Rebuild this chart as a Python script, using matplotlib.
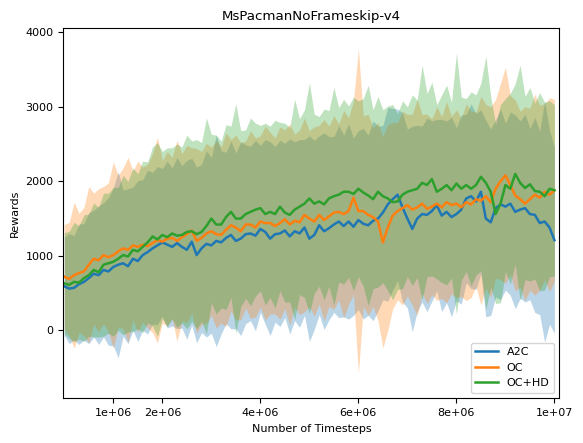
import numpy as np
import matplotlib
matplotlib.use("Agg")
import matplotlib.pyplot as plt

plt.rcParams['font.size'] = 8

# timesteps (every 1e5 steps, 0 .. 1e7)
timesteps = np.linspace(0, 1e7, 101)

labels = ["A2C", "OC", "OC+HD"]
colors = ["tab:blue", "tab:orange", "tab:green"]

# mean rewards
a2c_mean = [590, 560, 570, 620, 650, 700, 760, 740, 810, 790,
            850, 880, 900, 860, 960, 930, 1010, 1050, 1100, 1140,
            1180, 1150, 1120, 1170, 1120, 1080, 1190, 1010, 1100, 1160,
            1140, 1200, 1180, 1240, 1280, 1200, 1230, 1290, 1300, 1270,
            1360, 1320, 1230, 1290, 1300, 1340, 1260, 1330, 1300, 1380,
            1230, 1280, 1410, 1330, 1370, 1420, 1460, 1400, 1460, 1390,
            1480, 1430, 1410, 1470, 1500, 1580, 1690, 1760, 1820, 1650,
            1500, 1360, 1500, 1560, 1550, 1600, 1680, 1540, 1590, 1520,
            1560, 1620, 1770, 1800, 1730, 1860, 1500, 1450, 1640, 1690,
            1660, 1700, 1590, 1620, 1640, 1560, 1550, 1440, 1460, 1380,
            1210]
oc_mean = [720, 690, 740, 770, 790, 880, 960, 940, 1010, 980,
           1010, 1060, 1100, 1080, 1140, 1120, 1150, 1130, 1170, 1210,
           1190, 1230, 1240, 1200, 1250, 1290, 1340, 1200, 1240, 1300,
           1330, 1290, 1280, 1350, 1410, 1380, 1330, 1420, 1420, 1380,
           1460, 1440, 1440, 1400, 1440, 1490, 1420, 1470, 1450, 1550,
           1500, 1460, 1550, 1480, 1530, 1580, 1590, 1560, 1600, 1780,
           1600, 1600, 1550, 1520, 1460, 1180, 1380, 1540, 1600, 1640,
           1680, 1620, 1650, 1700, 1630, 1660, 1700, 1650, 1720, 1680,
           1700, 1650, 1720, 1690, 1760, 1740, 1800, 1720, 1900, 2000,
           2080, 1950, 1810, 1760, 1700, 1760, 1820, 1780, 1860, 1820,
           1880]
ochd_mean = [630, 610, 650, 640, 700, 740, 810, 780, 880, 900,
             920, 960, 1010, 990, 1080, 1060, 1120, 1180, 1260, 1220,
             1280, 1250, 1300, 1270, 1280, 1320, 1330, 1290, 1320, 1400,
             1500, 1420, 1420, 1520, 1590, 1500, 1500, 1560, 1590, 1620,
             1640, 1560, 1590, 1560, 1660, 1580, 1550, 1620, 1660, 1700,
             1770, 1700, 1730, 1690, 1770, 1800, 1820, 1860, 1860, 1830,
             1900, 1850, 1810, 1760, 1860, 1800, 1770, 1720, 1730, 1820,
             1860, 1880, 1900, 1980, 1950, 2030, 1860, 1900, 1950, 1880,
             1970, 1900, 1950, 1900, 1950, 2060, 1980, 1860, 1560, 1700,
             1950, 1900, 2100, 1980, 1910, 1960, 1870, 1860, 1800, 1900,
             1880]

# standard deviations (half width of the shaded band)
a2c_std = [660, 740, 700, 810, 780, 880, 850, 930, 900, 990,
           1060, 1250, 980, 1040, 960, 1080, 1010, 1100, 1020, 1060,
           990, 1120, 1060, 1150, 1090, 1200, 1120, 1180, 1130, 1250,
           1180, 1420, 1230, 1150, 1260, 1180, 1300, 1200, 1170, 1280,
           1120, 1240, 1300, 1180, 1250, 1170, 1310, 1200, 1260, 1180,
           1380, 1270, 1200, 1320, 1230, 1180, 1290, 1220, 1310, 1190,
           1200, 1280, 1210, 1340, 1240, 1170, 1300, 1220, 1150, 1270,
           1200, 1380, 1250, 1180, 1300, 1210, 1150, 1290, 1220, 1340,
           1160, 1270, 1130, 1240, 1180, 1100, 1320, 1250, 1190, 1280,
           1120, 1230, 1300, 1190, 1260, 1150, 1310, 1230, 1620, 1300,
           1250]
oc_std = [700, 760, 980, 800, 860, 1050, 880, 960, 920, 1000,
          1250, 1020, 1080, 1240, 1000, 1150, 1040, 1100, 1200, 1380,
          1090, 1170, 1080, 1350, 1120, 1190, 1110, 1240, 1160, 1210,
          1130, 1260, 1180, 1300, 1150, 1240, 1190, 1120, 1260, 1200,
          1150, 1300, 1220, 1180, 1290, 1200, 1350, 1160, 1240, 1300,
          1180, 1270, 1200, 1350, 1210, 1300, 1180, 1390, 1250, 1300,
          2180, 1280, 1350, 1200, 1330, 1420, 1380, 1250, 1190, 1300,
          1220, 1280, 1450, 1200, 1270, 1180, 1300, 1220, 1350, 1190,
          1260, 1200, 1320, 1250, 1170, 1400, 1230, 1280, 1200, 1320,
          1450, 1200, 1280, 1180, 1300, 1220, 1350, 1240, 1180, 1300,
          1220]
ochd_std = [680, 720, 800, 760, 850, 820, 900, 870, 960, 940,
            1000, 960, 1070, 1010, 1100, 1040, 1150, 1080, 1200, 1300,
            1120, 1200, 1150, 1230, 1180, 1300, 1210, 1270, 1200, 1450,
            1130, 1200, 1120, 1240, 1150, 1540, 1180, 1130, 1260, 1160,
            1110, 1220, 1150, 1260, 1130, 1200, 1170, 1480, 1180, 1260,
            1550, 1200, 1140, 1280, 1180, 1460, 1170, 1240, 1150, 1300,
            1180, 1260, 1480, 1200, 1280, 1160, 1240, 1310, 1180, 1260,
            1140, 1280, 1190, 1580, 1230, 1300, 1170, 1260, 1340, 1180,
            1750, 1230, 1160, 1300, 1210, 1260, 1700, 1280, 1200, 1330,
            1160, 1280, 1210, 1580, 1230, 1300, 1180, 1330, 1260, 1180,
            1150]

xtick_values = [1e6, 2e6, 4e6, 6e6, 8e6, 1e7]

means = [a2c_mean, oc_mean, ochd_mean]
stds = [a2c_std, oc_std, ochd_std]

fig = plt.figure(figsize=(5.83, 4.43), dpi=100)
ax = fig.add_axes([0.1086, 0.1009, 0.8508, 0.8352])

for label, color, m, s in zip(labels, colors, means, stds):
    m = np.array(m, dtype=float)
    s = np.array(s, dtype=float)
    ax.plot(timesteps, m, color=color, label=label, linewidth=1.8)
    ax.fill_between(timesteps, m - s, m + s, color=color, alpha=0.3, linewidth=0)

ax.set_xlim(-0.02e6, 1.01e7)
ax.set_ylim(-913, 4054)
ax.set_xticks(xtick_values)
ax.set_xticklabels(["%g" % v for v in xtick_values])
ax.set_xlabel("Number of Timesteps")
ax.set_ylabel("Rewards")
ax.set_title("MsPacmanNoFrameskip-v4", fontsize=9.6)
ax.legend(loc="lower right")

fig.savefig("out.png", dpi=100)
